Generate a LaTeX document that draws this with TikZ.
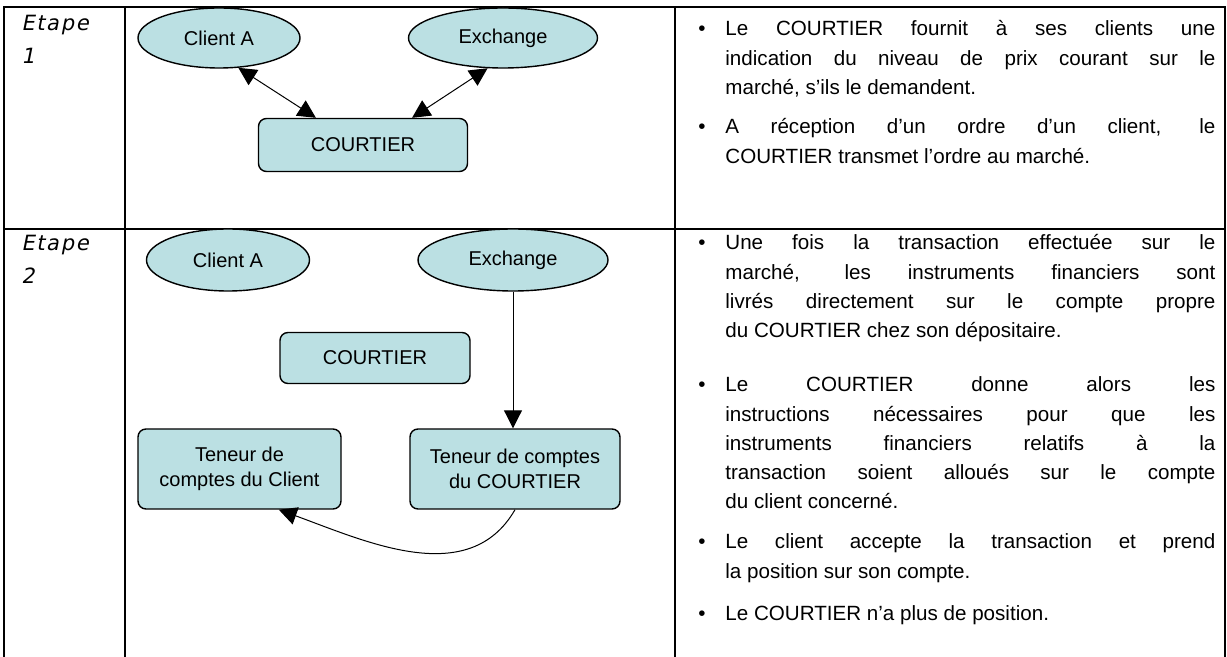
\documentclass[tikz,border=0pt]{standalone}
\usepackage{fontspec}
\setmainfont{Liberation Sans}
\newfontfamily\etapefont{DejaVu Sans}[LetterSpace=8,FakeSlant=0.2]
\usetikzlibrary{shapes.geometric,arrows.meta}

\definecolor{bleunoeud}{RGB}{187,224,227}

\newcommand{\puce}[1]{\noindent\hangindent=13.5pt\hangafter=1\makebox[13.5pt][l]{•}#1\par}

\tikzset{
	bulle/.style={ellipse,draw,fill=bleunoeud,line width=0.7pt,inner sep=0pt,minimum height=30pt,font=\fontsize{10}{12}\selectfont},
	boite/.style={rectangle,rounded corners=4pt,draw,fill=bleunoeud,line width=0.7pt,inner sep=0pt,align=center,font=\fontsize{10}{12.5}\selectfont},
	fleche/.style={-{Triangle[length=9pt,width=9pt]},line width=0.5pt},
	doublefleche/.style={{Triangle[length=9pt,width=9pt]}-{Triangle[length=9pt,width=9pt]},line width=0.5pt},
	texte/.style={anchor=base west,inner sep=0pt,text width=258.5pt,align=justify,font=\fontsize{10.3}{14.6}\selectfont},
	etape/.style={anchor=base west,inner sep=0pt,text width=50pt,align=left,font=\etapefont\fontsize{10.5}{16.5}\selectfont},
	cadre/.style={line width=1pt},
}

\begin{document}
\begin{tikzpicture}[x=0.5pt,y=-0.5pt]
	\useasboundingbox (0,0) rectangle (1227,657);

	% tableau
	\draw[cadre] (4,657) -- (4,7) -- (1225,7) -- (1225,657);
	\draw[cadre] (4,229) -- (1225,229);
	\draw[cadre] (125,7) -- (125,657);
	\draw[cadre] (675,7) -- (675,657);

	\node (etape1) [etape] at (21,31) {Etape\\1};
	\node (etape2) [etape] at (21,251) {Etape\\2};

	% etape 1
	\node (client1) [bulle,minimum width=81pt] at (219,38) {Client A};
	\node (exchange1) [bulle,minimum width=94.5pt] at (503,38) {Exchange};
	\node (courtier1) [boite,minimum width=104.5pt,minimum height=26.5pt] at (363,145) {COURTIER};
	\draw[doublefleche] (client1.-57) -- (courtier1.150);
	\draw[doublefleche] (exchange1.-117) -- (courtier1.29);

	% etape 2
	\node (client2) [bulle,minimum width=81.5pt,minimum height=31pt] at (228,260) {Client A};
	\node (exchange2) [bulle,minimum width=95pt,minimum height=31pt] at (513,260) {Exchange};
	\node (courtier2) [boite,minimum width=95pt,minimum height=25.5pt] at (375,358) {COURTIER};
	\node (teneurclient) [boite,minimum width=101.5pt,minimum height=40pt] at (239.5,469) {Teneur de\\comptes du Client};
	\node (teneurcourtier) [boite,minimum width=105pt,minimum height=40pt] at (515,469) {Teneur de comptes\\du COURTIER};
	\draw[fleche] (exchange2.south) -- (exchange2.south |- teneurcourtier.north);
	\draw[fleche] (teneurcourtier.south) to[out=-120,in=-20] (teneurclient.-46);

	% commentaires
	\node (texte1a) [texte] at (698,36) {\puce{Le COURTIER fournit à ses clients une\linebreak indication du niveau de prix courant sur le\linebreak marché, s’ils le demandent.}};
	\node (texte1b) [texte] at (698,134) {\puce{A réception d’un ordre d’un client, le\linebreak COURTIER transmet l’ordre au marché.}};
	\node (texte2a) [texte] at (698,250) {\puce{Une fois la transaction effectuée sur le\linebreak marché, les instruments financiers sont\linebreak livrés directement sur le compte propre\linebreak du COURTIER chez son dépositaire.}};
	\node (texte2b) [texte] at (698,392) {\puce{Le COURTIER donne alors les\linebreak instructions nécessaires pour que les\linebreak instruments financiers relatifs à la\linebreak transaction soient alloués sur le compte\linebreak du client concerné.}};
	\node (texte2c) [texte] at (698,549) {\puce{Le client accepte la transaction et prend\linebreak la position sur son compte.}};
	\node (texte2d) [texte] at (698,620) {\puce{Le COURTIER n’a plus de position.}};
\end{tikzpicture}
\end{document}
